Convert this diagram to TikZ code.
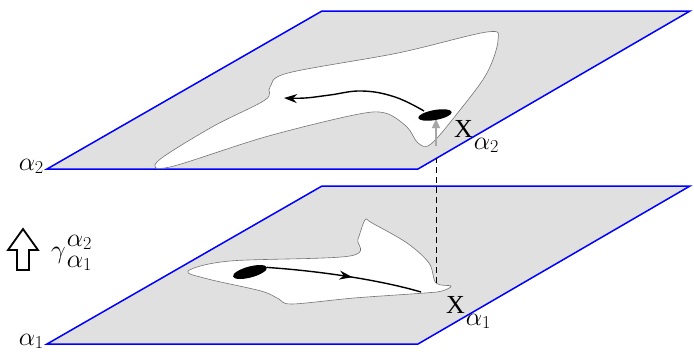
\RequirePackage{fix-cm}
\documentclass[tikz,border=0pt]{standalone}
\usepackage{fontspec}
\setmainfont{Liberation Serif}
\usetikzlibrary{arrows.meta, positioning, calc, shapes.geometric, decorations.markings}

\begin{document}
\begin{tikzpicture}[
    x=1pt, y=-1pt,
    plane/.style={draw=blue, fill=black!12, line width=1.5pt, line join=miter},
    region/.style={draw=black!55, fill=white, line width=0.6pt},
    flow/.style={-{Stealth[length=13pt, width=9pt]}, line width=1.4pt, black},
    midarrow/.style={line width=1.4pt, black, decoration={markings,
        mark=at position 0.55 with {\arrow{Stealth[length=13pt, width=9pt]}}}, postaction=decorate},
    spot/.style={ellipse, fill=black, inner sep=0pt},
    lift/.style={-{Triangle[length=9pt, width=8pt]}, line width=1.2pt, black!35},
    labelstyle/.style={font=\fontsize{26}{30}\selectfont, inner sep=0pt}
]
\useasboundingbox (0,0) rectangle (694,356);

% === Upper plane (alpha_2) ===
\coordinate (twobl) at (47,169);
\coordinate (twobr) at (418,169);
\coordinate (twotr) at (690,11);
\coordinate (twotl) at (322,11);
\draw[plane] (twobl) -- (twobr) -- (twotr) -- (twotl) -- cycle;
\draw[region] plot[smooth cycle, tension=0.55] coordinates {
    (158,161) (170,167) (265,137) (354,115) (385,113) (407,127) (418,143)
    (431,144) (460,110) (487,73) (498,40) (487,32) (398,53) (288,73)
    (270,87) (265,100) (212,127)};

% === Lower plane (alpha_1) ===
\coordinate (onebl) at (47,344);
\coordinate (onebr) at (418,344);
\coordinate (onetr) at (690,186);
\coordinate (onetl) at (322,186);
\draw[plane] (onebl) -- (onebr) -- (onetr) -- (onetl) -- cycle;
\draw[region] plot[smooth cycle, tension=0.55] coordinates {
    (188,271) (230,261) (350,256) (358,239) (365,220) (372,223) (407,243)
    (429,263) (436,283) (451,286) (442,291) (425,293) (354,298) (292,304)
    (279,299) (261,291) (208,279)};

% === Projection between the planes ===
\coordinate (xone) at (436,283);
\coordinate (hidden) at (436,158);
\coordinate (liftfoot) at (436,146);
\coordinate (lifttip) at (436,119);
\draw[dashed, line width=1pt, dash pattern=on 6pt off 4pt] (xone) -- (hidden);
\draw[lift] (liftfoot) -- (lifttip);

% === Spots and flows ===
\node[spot, minimum width=34pt, minimum height=10pt, rotate=10] (spottwo) at (435,115) {};
\draw[flow] plot[smooth, tension=0.7] coordinates {
    (424,111) (395,97) (362,91) (330,95) (305,98) (284,98)};

\node[spot, minimum width=35pt, minimum height=11pt, rotate=15] (spotone) at (250,272) {};
\coordinate (flowend) at (421,292);
\draw[midarrow] (spotone.east) .. controls (320,271) and (380,280) .. (flowend);

% === Labels ===
\node[labelstyle, anchor=base east] (labtwo) at (44,170) {$\alpha_2$};
\node[labelstyle, anchor=base east] (labone) at (44,345) {$\alpha_1$};
\node[labelstyle, anchor=base west] (xtwo) at (454,137)
    {X\kern1pt\raisebox{-12pt}{$\alpha_2$}};
\node[labelstyle, anchor=base west] (xonelab) at (446,313)
    {X\kern1pt\raisebox{-12pt}{$\alpha_1$}};

% hollow arrow for the map between levels
\draw[line width=1.8pt, fill=white, line join=miter]
    (8,250) -- (23,229) -- (38,250) -- (29,250) -- (29,270) -- (17,270) -- (17,250) -- cycle;
\node[labelstyle, anchor=base west] (gamma) at (51,258)
    {$\gamma$\kern1pt\rlap{\raisebox{12pt}{$\alpha_2$}}\raisebox{-9pt}{$\alpha_1$}};

\end{tikzpicture}
\end{document}
